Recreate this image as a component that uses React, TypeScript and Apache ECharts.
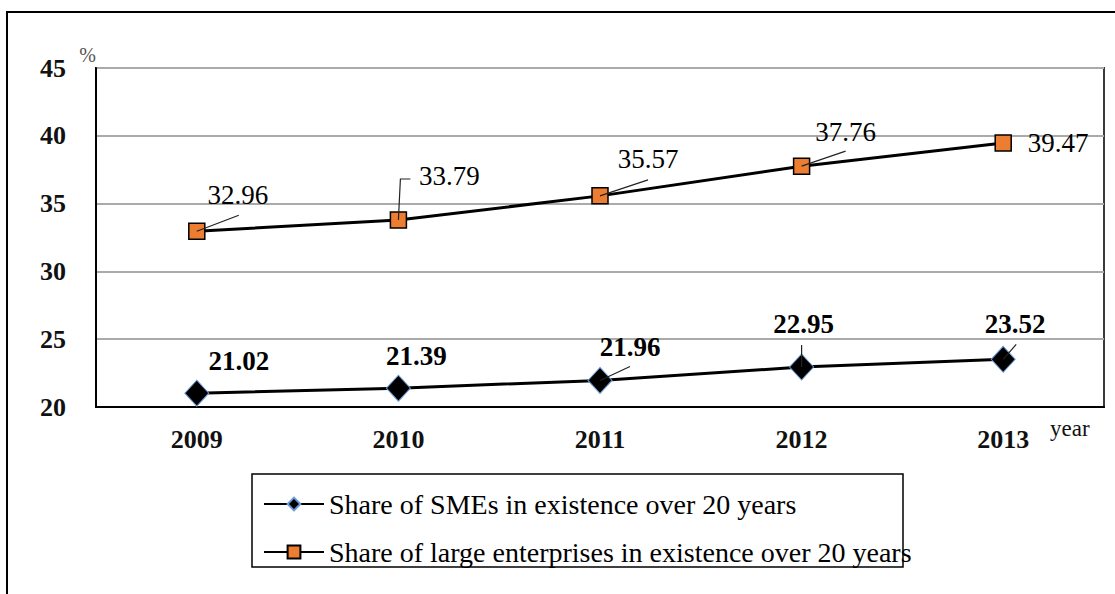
import React, { useEffect, useRef } from "react";
import * as echarts from "echarts";

const years = ["2009", "2010", "2011", "2012", "2013"];
const smeShare = [21.02, 21.39, 21.96, 22.95, 23.52];
const largeShare = [32.96, 33.79, 35.57, 37.76, 39.47];
const yMin = 20;
const yMax = 45;
const yStep = 5;
const seriesNames = [
  "Share of SMEs in existence over 20 years",
  "Share of large enterprises in existence over 20 years",
];

// label placement in pixels relative to each marker
const smeLabelOffsets = [[42, -32], [18, -32], [30, -33], [2, -43], [12, -35]];
const smeLeaders: (number[][] | null)[] = [null, null, [[30, -14]], [[0, -22]], [[13, -15]]];
const largeLabelOffsets = [[41, -36], [51, -44], [48, -37], [44, -34], [55, 0]];
const largeLeaders: (number[][] | null)[] = [[[42, -16]], [[2, -41], [12, -41]], [[48, -16]], [[44, -15]], null];

const SERIF = "'Liberation Serif', 'Times New Roman', serif";

function leaderSeries(values: number[], leaders: (number[][] | null)[]) {
  return {
    type: "custom",
    coordinateSystem: "cartesian2d",
    silent: true,
    z: 5,
    data: values.map((v, i) => [i, v]),
    renderItem: (params: any, api: any) => {
      const leg = leaders[params.dataIndex];
      if (!leg) return { type: "group", children: [] };
      const p = api.coord([api.value(0), api.value(1)]);
      const pts = [p, ...leg.map((o) => [p[0] + o[0], p[1] + o[1]])];
      return {
        type: "polyline",
        shape: { points: pts },
        style: { stroke: "#222", lineWidth: 1.2, fill: null },
      };
    },
  };
}

export default function App() {
  const ref = useRef<HTMLDivElement>(null);
  useEffect(() => {
    if (!ref.current) return;
    const chart = echarts.init(ref.current, null, { renderer: "svg" });
    const labelBase = {
      show: true,
      position: "inside",
      color: "#000",
      fontFamily: SERIF,
      fontSize: 27,
      formatter: (p: any) => Number(p.value).toFixed(2),
    };
    chart.setOption({
      animation: false,
      backgroundColor: "#fff",
      grid: {
        left: 96,
        right: 11,
        top: 68,
        bottom: 187,
        show: true,
        borderColor: "#3a3a3a",
        borderWidth: 2,
      },
      xAxis: {
        type: "category",
        data: years,
        boundaryGap: true,
        axisLine: { show: true, lineStyle: { color: "#000", width: 2 } },
        axisTick: { show: false },
        axisLabel: {
          fontFamily: SERIF,
          fontWeight: "bold",
          fontSize: 26,
          color: "#111",
          margin: 19,
        },
      },
      yAxis: {
        type: "value",
        min: yMin,
        max: yMax,
        interval: yStep,
        name: "%",
        nameLocation: "end",
        nameGap: 3,
        nameTextStyle: {
          fontFamily: SERIF,
          fontSize: 20,
          color: "#555",
          align: "right",
          verticalAlign: "bottom",
        },
        axisLine: { show: true, lineStyle: { color: "#000", width: 2 } },
        axisTick: { show: false },
        splitLine: { show: true, lineStyle: { color: "#aaaaaa", width: 2 } },
        axisLabel: {
          fontFamily: SERIF,
          fontWeight: "bold",
          fontSize: 26,
          color: "#111",
          margin: 30,
        },
      },
      legend: {
        data: seriesNames,
        orient: "vertical",
        left: 258,
        top: 485,
        itemGap: 20,
        itemWidth: 60,
        itemHeight: 16,
        textStyle: { fontFamily: SERIF, fontSize: 28, color: "#000" },
      },
      graphic: [
        {
          type: "rect",
          shape: { x: 7, y: 12, width: 1300, height: 800 },
          style: { fill: "none", stroke: "#000", lineWidth: 2 },
          silent: true,
        },
        {
          type: "rect",
          shape: { x: 252, y: 474, width: 651, height: 93 },
          style: { fill: "none", stroke: "#000", lineWidth: 1.5 },
          silent: true,
        },
        {
          type: "text",
          x: 1050,
          y: 417,
          style: { text: "year", font: `23px ${SERIF}`, fill: "#111" },
        },
      ],
      series: [
        {
          type: "line",
          name: seriesNames[0],
          data: smeShare.map((v, i) => ({ value: v, label: { offset: smeLabelOffsets[i] } })),
          symbol: "diamond",
          symbolSize: [24, 26],
          lineStyle: { color: "#000", width: 3 },
          itemStyle: { color: "#000", borderColor: "#6b9bd6", borderWidth: 1 },
          label: { ...labelBase, fontWeight: "bold" },
          z: 3,
        },
        {
          type: "line",
          name: seriesNames[1],
          data: largeShare.map((v, i) => ({ value: v, label: { offset: largeLabelOffsets[i] } })),
          symbol: "rect",
          symbolSize: 16,
          lineStyle: { color: "#000", width: 3 },
          itemStyle: { color: "#ED7D31", borderColor: "#000", borderWidth: 1.5 },
          label: { ...labelBase, fontWeight: "normal" },
          z: 3,
        },
        leaderSeries(smeShare, smeLeaders),
        leaderSeries(largeShare, largeLeaders),
      ],
    });
    return () => chart.dispose();
  }, []);
  return (
    <div
      ref={ref}
      style={{ position: "fixed", left: 0, top: 0, width: 1115, height: 594 }}
    />
  );
}
